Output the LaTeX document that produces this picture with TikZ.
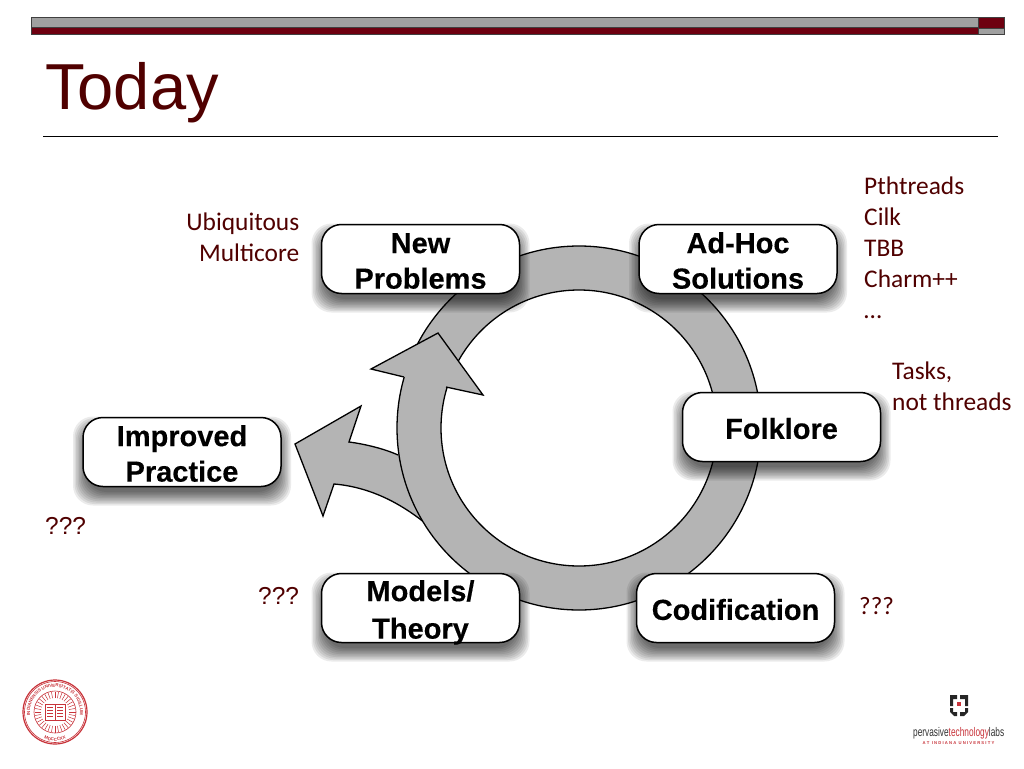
\documentclass[tikz,border=0pt]{standalone}
\usepackage{fontspec}
\setmainfont{Liberation Sans}
\newfontfamily\calfont{Carlito}
\newfontfamily\boxfont[BoldFeatures={FakeBold=0.3}]{Liberation Sans}
\usetikzlibrary{decorations.text}
\definecolor{slidered}{HTML}{500000}
\definecolor{barred}{HTML}{6E0010}
\definecolor{bargray}{HTML}{A0A0A0}
\definecolor{ringgray}{HTML}{B4B4B4}
\definecolor{sealred}{HTML}{C8333A}
\tikzset{
  x=1pt,y=-1pt,
  boxnode/.style={draw=black,line width=1.5pt,fill=white,rounded corners=20pt,minimum width=198pt,minimum height=69pt,inner sep=0pt,align=center,font=\boxfont\fontsize{29}{35.5}\selectfont\bfseries,text=black},
  labeltext/.style={inner sep=0pt,text=slidered,font=\calfont\fontsize{25.4}{31}\selectfont},
  qtext/.style={inner sep=0pt,text=slidered,font=\fontsize{24.5}{30}\selectfont},
  arrowedge/.style={draw=black,line width=1.3pt,line join=miter},
  arrowfill/.style={fill=ringgray},
  barline/.style={draw=black!75,line width=0.8pt},
  sealline/.style={draw=sealred,line width=0.6pt},
  logoblack/.style={fill=black!85}
}
\newcommand{\softbox}[4]{%
  \foreach \s in {10,8.5,7,5.5,4,2.5,1,-0.5,-2,-3.5}{%
    \fill[black,opacity=0.08,rounded corners=20pt]
      ({#2-99-\s},{#3+9-34.5-\s}) rectangle ({#2+99+\s},{#3+9+34.5+\s});}
  \node[boxnode] (#1) at (#2,#3) {\raisebox{-22pt}{\smash{\begin{tabular}{@{}c@{}}#4\end{tabular}}}};}
\begin{document}
\begin{tikzpicture}
\useasboundingbox (0,0) rectangle (1024,768);
\fill[white] (0,0) rectangle (1024,768);
% top bar
\path[barline,fill=bargray] (31,17) rectangle (978,27);
\path[barline,fill=barred] (31,27) rectangle (978,34);
\path[barline,fill=barred] (978,17) rectangle (1004,28);
\path[barline,fill=bargray] (978,28) rectangle (1004,34);
% title
\node[anchor=base west,inner sep=0pt,text=slidered,font=\fontsize{65}{70}\selectfont] (title) at (45,109) {Today};
\draw[black,line width=1pt] (43,136) -- (998,136);
% branch arrow
\path[arrowfill] (295,444) -- (361,406) -- (349,442) .. controls (365,444) and (385,449) .. (398,455) -- (440,500) -- (425,523) .. controls (400,503) and (370,487) .. (334,484) -- (323,516) -- cycle;
\draw[arrowedge] (398,455) .. controls (385,449) and (365,444) .. (349,442) -- (361,406) -- (295,444) -- (323,516) -- (334,484) .. controls (370,487) and (400,503) .. (425,523);
% ring
\path[arrowedge,fill=ringgray,even odd rule] (579,428) circle[radius=182pt] (579,428) circle[radius=138pt];
% arrow head
\path[arrowfill] (404,377) -- (371,369) -- (438,333) -- (483,395) -- (446,387) -- cycle;
\draw[arrowedge] (404,377) -- (371,369) -- (438,333) -- (483,395) -- (446,387);
% boxes
\softbox{newprob}{420.5}{259}{New\\Problems}
\softbox{adhoc}{738}{259}{Ad-Hoc\\Solutions}
\softbox{folklore}{781.5}{427}{Folklore}
\softbox{improved}{182}{452}{Improved\\Practice}
\softbox{models}{420.5}{608}{Models/\\[2pt]Theory}
\softbox{codif}{735.5}{608}{Codification}
% labels
\node[labeltext,anchor=north east,align=right] (ubiq) at (299.5,213) {Ubiquitous\\Multicore};
\node[labeltext,anchor=north west,align=left] (pth) at (864,177) {Pthtreads\\Cilk\\TBB\\Charm++\\…};
\node[labeltext,anchor=north west,align=left] (tasks) at (892,362) {Tasks,\\not threads};
\node[qtext,anchor=base west] (q1) at (45,534) {???};
\node[qtext,anchor=base west] (q2) at (258,604) {???};
\node[qtext,anchor=base west,font=\calfont\fontsize{25}{30}\selectfont] (q3) at (859,614) {???};
% seal
\draw[sealred,line width=1.2pt] (55,712) circle[radius=32pt];
\draw[sealline] (55,712) circle[radius=30.5pt];
\draw[sealline] (55,712) circle[radius=21pt];
\foreach \a in {0,10,...,350}{\draw[sealred,line width=0.5pt] (55,712) ++(\a:14pt) -- ++(\a:6.5pt);}
\path[sealline,fill=white] (45,704) rectangle (65,720);
\draw[sealline] (55,704) -- (55,720);
\foreach \yy in {707,710,713,716}{\draw[sealred,line width=0.4pt] (47,\yy) -- (53,\yy) (57,\yy) -- (63,\yy);}
\path[decorate,decoration={text along path,text align=center,text={|\fontsize{4.4}{5}\selectfont\bfseries\color{sealred}|INDIANENSIS UNIVERSITATIS SIGILLUM}}] (55,712) ++(215:25pt) arc[start angle=215,end angle=-35,radius=25pt];
\path[decorate,decoration={text along path,text align=center,text={|\fontsize{4.4}{5}\selectfont\bfseries\color{sealred}|MDCCCXX}}] (55,712) ++(238:29pt) arc[start angle=238,end angle=302,radius=29pt];
% PTL logo
\fill[logoblack] (950,695) -- (957,695) -- (957,699) -- (953,699) -- (953,706) -- (950,706) -- cycle;
\fill[logoblack] (960,695) -- (968,695) -- (968,706) -- (965,706) -- (965,699) -- (960,699) -- cycle;
\fill[logoblack] (950,708) -- (953,708) -- (953,712) -- (957,712) -- (957,716) -- (954,716) -- (950,712) -- cycle;
\fill[logoblack] (960,712) -- (965,712) -- (965,708) -- (968,708) -- (968,712) -- (964,716) -- (960,716) -- cycle;
\fill[sealred] (957,702) rectangle (960.5,705.5);
\node[inner sep=0pt,anchor=base west,xscale=0.665] (ptl) at (913,736) {\fontsize{12.5}{13}\selectfont\textcolor{black!80}{pervasive}\textcolor{sealred}{technology}\textcolor{black!80}{labs}};
\node[inner sep=0pt,anchor=base,text=sealred] (ptlsub) at (958.5,744) {\fontsize{4.2}{5}\selectfont\bfseries A T\ \ I N D I A N A\ \ U N I V E R S I T Y};
\end{tikzpicture}
\end{document}
